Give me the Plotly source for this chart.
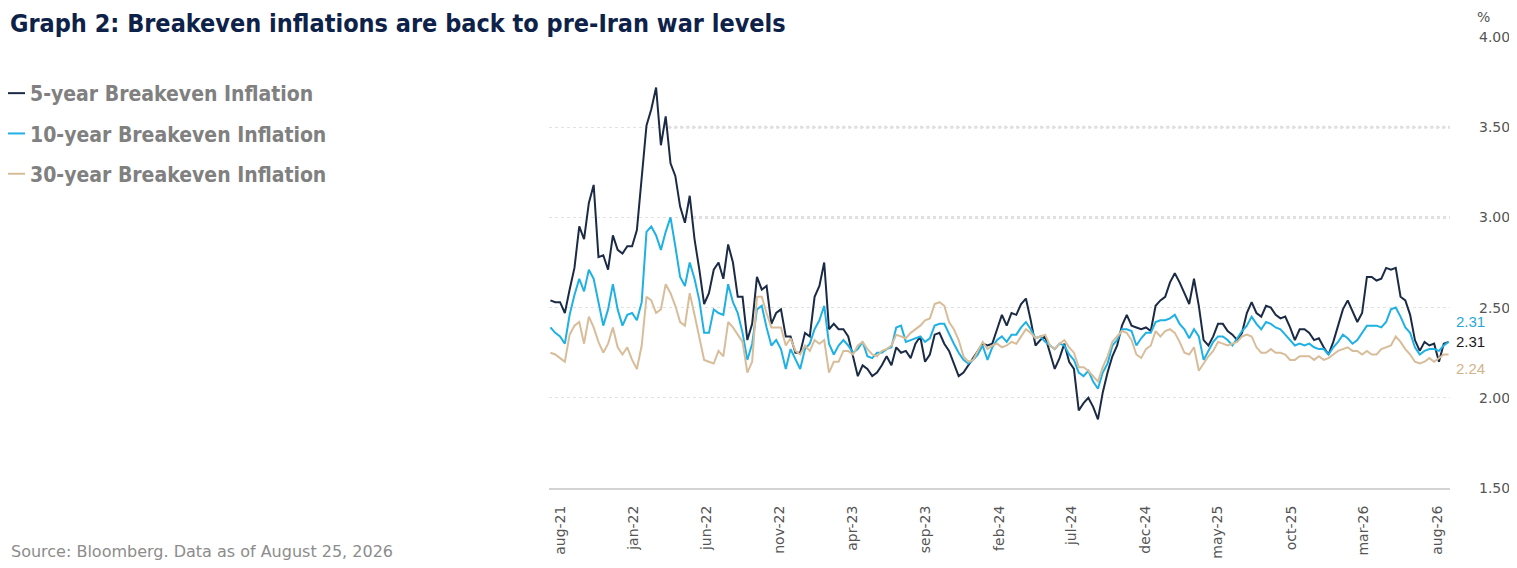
import pandas as pd
import plotly.graph_objects as go

# ---------------- data (10-day sampling) ----------------
start_date = "2021-07-12"
step = "10D"

be5 = [2.54, 2.53, 2.53, 2.47, 2.60, 2.72, 2.95, 2.88, 3.08, 3.18,
       2.78, 2.79, 2.71, 2.90, 2.82, 2.80, 2.84, 2.84, 2.93, 3.21,
       3.51, 3.60, 3.72, 3.40, 3.56, 3.30, 3.23, 3.06, 2.97, 3.12,
       2.88, 2.71, 2.52, 2.58, 2.71, 2.75, 2.66, 2.85, 2.75, 2.56,
       2.56, 2.32, 2.41, 2.67, 2.60, 2.62, 2.41, 2.47, 2.49, 2.34,
       2.34, 2.25, 2.25, 2.36, 2.34, 2.56, 2.62, 2.75, 2.38, 2.41,
       2.38, 2.38, 2.34, 2.23, 2.12, 2.18, 2.16, 2.12, 2.14, 2.18,
       2.23, 2.18, 2.28, 2.25, 2.26, 2.22, 2.30, 2.34, 2.20, 2.24,
       2.35, 2.36, 2.30, 2.26, 2.19, 2.12, 2.14, 2.18, 2.22, 2.26,
       2.30, 2.29, 2.30, 2.38, 2.46, 2.40, 2.47, 2.46, 2.52, 2.55,
       2.43, 2.29, 2.32, 2.34, 2.25, 2.16, 2.22, 2.30, 2.20, 2.16,
       1.93, 1.97, 2.00, 1.95, 1.88, 2.03, 2.14, 2.23, 2.29, 2.40,
       2.46, 2.40, 2.39, 2.38, 2.39, 2.37, 2.51, 2.54, 2.56, 2.64,
       2.69, 2.64, 2.58, 2.52, 2.66, 2.51, 2.32, 2.29, 2.34, 2.41,
       2.41, 2.37, 2.35, 2.32, 2.36, 2.47, 2.53, 2.47, 2.45, 2.51,
       2.50, 2.46, 2.44, 2.45, 2.39, 2.32, 2.38, 2.38, 2.36, 2.32,
       2.33, 2.28, 2.24, 2.31, 2.40, 2.49, 2.54, 2.48, 2.42, 2.47,
       2.67, 2.67, 2.65, 2.66, 2.72, 2.71, 2.72, 2.56, 2.54, 2.46,
       2.32, 2.26, 2.31, 2.29, 2.30, 2.20, 2.30, 2.31]

be10 = [2.39, 2.36, 2.34, 2.30, 2.46, 2.57, 2.66, 2.59, 2.71, 2.66,
        2.53, 2.40, 2.49, 2.63, 2.49, 2.40, 2.46, 2.47, 2.43, 2.53,
        2.92, 2.95, 2.90, 2.82, 2.92, 3.00, 2.84, 2.67, 2.62, 2.75,
        2.66, 2.54, 2.36, 2.36, 2.49, 2.47, 2.46, 2.63, 2.53, 2.47,
        2.36, 2.21, 2.30, 2.49, 2.51, 2.39, 2.29, 2.32, 2.27, 2.16,
        2.27, 2.21, 2.16, 2.27, 2.30, 2.38, 2.43, 2.51, 2.30, 2.24,
        2.29, 2.32, 2.29, 2.25, 2.27, 2.31, 2.23, 2.22, 2.25, 2.25,
        2.27, 2.28, 2.39, 2.40, 2.31, 2.32, 2.33, 2.34, 2.31, 2.33,
        2.40, 2.41, 2.41, 2.35, 2.30, 2.25, 2.21, 2.19, 2.21, 2.24,
        2.29, 2.21, 2.28, 2.32, 2.34, 2.31, 2.35, 2.35, 2.39, 2.42,
        2.38, 2.33, 2.34, 2.31, 2.29, 2.27, 2.30, 2.29, 2.24, 2.21,
        2.14, 2.12, 2.15, 2.09, 2.05, 2.14, 2.19, 2.29, 2.32, 2.38,
        2.38, 2.37, 2.29, 2.33, 2.36, 2.36, 2.42, 2.43, 2.43, 2.44,
        2.46, 2.41, 2.38, 2.33, 2.38, 2.34, 2.21, 2.26, 2.31, 2.34,
        2.34, 2.32, 2.29, 2.33, 2.37, 2.40, 2.45, 2.41, 2.38, 2.42,
        2.41, 2.39, 2.38, 2.35, 2.32, 2.29, 2.30, 2.29, 2.30, 2.28,
        2.27, 2.27, 2.24, 2.28, 2.31, 2.35, 2.33, 2.30, 2.32, 2.36,
        2.40, 2.40, 2.40, 2.39, 2.42, 2.49, 2.50, 2.45, 2.39, 2.36,
        2.28, 2.24, 2.26, 2.27, 2.27, 2.26, 2.29, 2.31]

be30 = [2.25, 2.24, 2.22, 2.20, 2.35, 2.40, 2.42, 2.30, 2.45, 2.39,
        2.31, 2.25, 2.30, 2.39, 2.28, 2.24, 2.28, 2.21, 2.16, 2.29,
        2.56, 2.54, 2.47, 2.49, 2.63, 2.58, 2.51, 2.42, 2.40, 2.58,
        2.46, 2.33, 2.21, 2.20, 2.19, 2.26, 2.23, 2.42, 2.39, 2.35,
        2.31, 2.14, 2.20, 2.56, 2.56, 2.47, 2.39, 2.39, 2.39, 2.29,
        2.33, 2.26, 2.24, 2.29, 2.26, 2.32, 2.30, 2.32, 2.14, 2.20,
        2.20, 2.26, 2.26, 2.24, 2.29, 2.31, 2.27, 2.24, 2.23, 2.26,
        2.27, 2.29, 2.35, 2.34, 2.33, 2.36, 2.38, 2.40, 2.43, 2.44,
        2.52, 2.53, 2.51, 2.42, 2.38, 2.32, 2.23, 2.20, 2.21, 2.26,
        2.31, 2.27, 2.29, 2.30, 2.28, 2.29, 2.31, 2.30, 2.34, 2.38,
        2.36, 2.33, 2.34, 2.35, 2.29, 2.27, 2.30, 2.32, 2.28, 2.25,
        2.17, 2.17, 2.15, 2.12, 2.09, 2.17, 2.23, 2.31, 2.34, 2.37,
        2.36, 2.32, 2.24, 2.22, 2.27, 2.29, 2.37, 2.34, 2.37, 2.38,
        2.36, 2.31, 2.25, 2.24, 2.28, 2.15, 2.19, 2.23, 2.26, 2.31,
        2.30, 2.29, 2.30, 2.31, 2.34, 2.35, 2.34, 2.28, 2.25, 2.25,
        2.27, 2.25, 2.25, 2.24, 2.21, 2.21, 2.23, 2.23, 2.23, 2.21,
        2.23, 2.21, 2.22, 2.24, 2.26, 2.27, 2.28, 2.26, 2.26, 2.24,
        2.26, 2.24, 2.24, 2.27, 2.28, 2.29, 2.34, 2.31, 2.27, 2.24,
        2.20, 2.19, 2.20, 2.22, 2.20, 2.22, 2.24, 2.24]

series_names = ["5-year Breakeven Inflation", "10-year Breakeven Inflation",
                "30-year Breakeven Inflation"]
series_colors = ["#1b2a45", "#1fb1e3", "#d8bd9a"]
label_colors = ["#1b1b1b", "#1fa9d8", "#d2b48c"]
end_label_shift = [0, 20, -14]

tick_dates = ["2021-08-01", "2022-01-01", "2022-06-01", "2022-11-01", "2023-04-01",
              "2023-09-01", "2024-02-01", "2024-07-01", "2024-12-01", "2025-05-01",
              "2025-10-01", "2026-03-01", "2026-08-01"]
tick_labels = ["aug-21", "jan-22", "jun-22", "nov-22", "apr-23", "sep-23", "feb-24",
               "jul-24", "dec-24", "may-25", "oct-25", "mar-26", "aug-26"]
y_ticks = [1.5, 2.0, 2.5, 3.0, 3.5, 4.0]

title_text = "Graph 2: Breakeven inflations are back to pre-Iran war levels"
source_text = "Source: Bloomberg. Data as of August 25, 2026"

# ---------------- figure ----------------
# the page body adds an 8px offset; the figure is sized to fill the window
OFF = 8
W, H = 1517 - OFF, 568 - OFF
ML, MT = 549 - OFF, 37 - OFF
PR, PB = 1450 - OFF, 488 - OFF
MR, MB = W - PR, H - PB
PW, PH = PR - ML, PB - MT


def px_x(px):
    return (px - OFF - ML) / PW


def px_y(py):
    return 1 - (py - OFF - MT) / PH


dates = pd.date_range(start_date, periods=len(be5), freq=step)
all_series = [be5, be10, be30]

cond_font = "DejaVu Sans Condensed, Liberation Sans Narrow, DejaVu Sans"

fig = go.Figure()
for name, vals, col in zip(series_names, all_series, series_colors):
    fig.add_trace(go.Scatter(
        x=dates, y=vals, name=name, mode="lines",
        line=dict(color=col, width=2), legendgroup=name,
    ))

annotations = []
for vals, col, ys in zip(all_series, label_colors, end_label_shift):
    annotations.append(dict(
        x=dates[-1], y=vals[-1], xref="x", yref="y", text=f"{vals[-1]:.2f}",
        showarrow=False, xanchor="left", yanchor="middle", xshift=5, yshift=ys,
        font=dict(family="Liberation Sans, Arial", size=15, color=col),
    ))
annotations.append(dict(
    x=px_x(1475), y=px_y(17), xref="paper", yref="paper", text="%", showarrow=False,
    xanchor="left", yanchor="middle",
    font=dict(family="DejaVu Sans", size=14, color="#555555"),
))
annotations.append(dict(
    x=px_x(9), y=px_y(551), xref="paper", yref="paper", text=source_text,
    showarrow=False, xanchor="left", yanchor="middle",
    font=dict(family="DejaVu Sans", size=16, color="#8c8c8c"),
))
annotations.append(dict(
    x=px_x(9), y=px_y(8), xref="paper", yref="paper", text=f"<b>{title_text}</b>",
    showarrow=False, xanchor="left", yanchor="top", borderpad=0,
    font=dict(family=cond_font, size=25, color="#0e2249"),
))

fig.update_layout(
    width=W, height=H,
    paper_bgcolor="white", plot_bgcolor="white",
    margin=dict(l=ML, r=MR, t=MT, b=MB, autoexpand=False),
    showlegend=True,
    legend=dict(x=px_x(-10), xref="paper", y=px_y(73), yref="paper",
                xanchor="left", yanchor="top", traceorder="grouped",
                tracegroupgap=10, bgcolor="rgba(0,0,0,0)", itemwidth=30,
                font=dict(family=cond_font, size=21, color="#808080", weight="bold")),
    annotations=annotations,
    xaxis=dict(
        type="date", range=["2021-07-09", "2026-08-28"],
        tickvals=pd.to_datetime(tick_dates), ticktext=tick_labels,
        tickangle=-90, ticks="", ticklabelstandoff=10,
        showgrid=False, zeroline=False, automargin=False,
        showline=True, linecolor="#d3d3d3", linewidth=2,
        tickfont=dict(family="DejaVu Sans", size=14, color="#555555"),
    ),
    yaxis=dict(
        side="right", range=[1.5, 4.0], automargin=False,
        tickvals=y_ticks, ticktext=[f"{v:.2f}" for v in y_ticks],
        ticks="", ticklabelstandoff=28,
        showgrid=True, gridcolor="#e2e2e2", gridwidth=1, griddash="dot",
        zeroline=False, showline=False,
        tickfont=dict(family="DejaVu Sans", size=14, color="#555555"),
    ),
    shapes=[
        dict(type="line", xref="x", yref="y", x0="2022-03-14", x1="2026-08-28",
             y0=3.5, y1=3.5, line=dict(color="#dedede", width=3, dash="dot"),
             layer="below"),
        dict(type="line", xref="x", yref="y", x0="2022-05-05", x1="2026-08-28",
             y0=3.0, y1=3.0, line=dict(color="#dedede", width=3, dash="dot"),
             layer="below"),
    ],
)

fig.write_html("out.html")
